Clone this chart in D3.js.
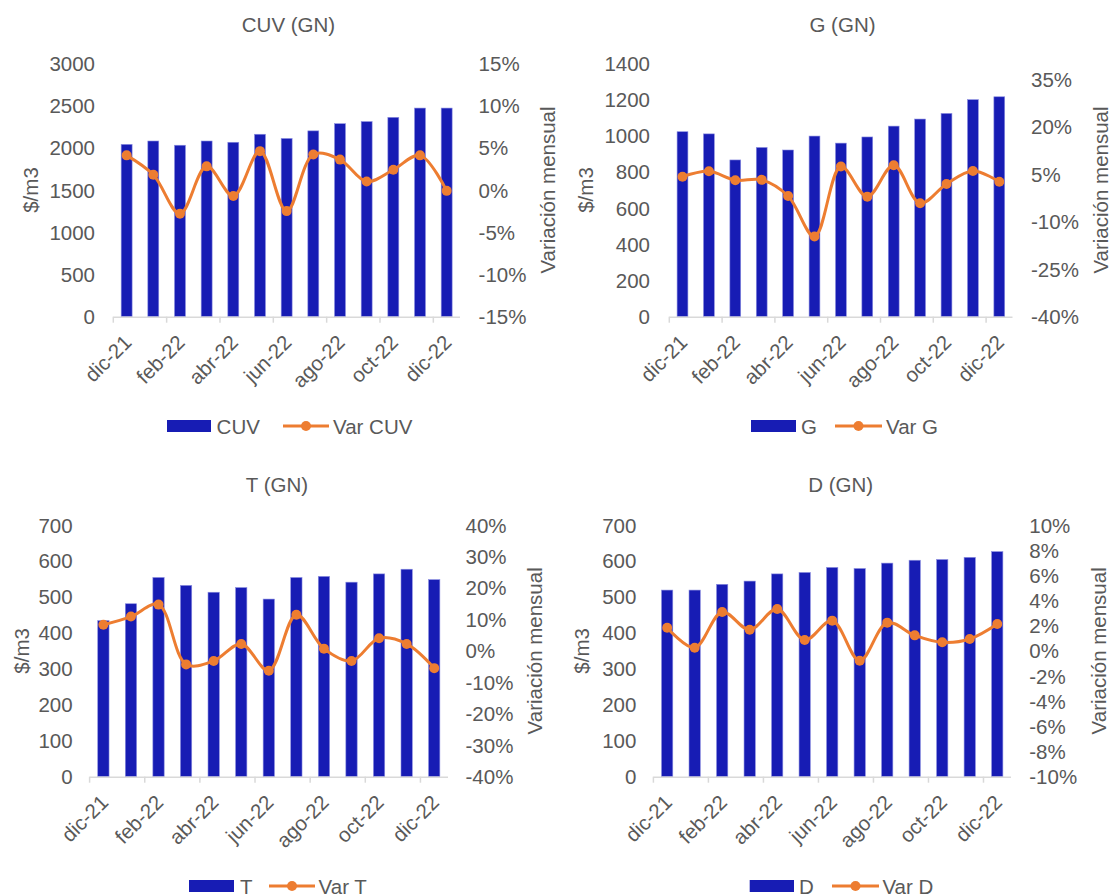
<!DOCTYPE html>
<html><head><meta charset="utf-8">
<script src="https://cdn.jsdelivr.net/npm/d3@7"></script>
<style>
body{margin:0;background:#fff}
svg{display:block}
text{font-family:"Liberation Sans",Arial,sans-serif;fill:#595959}
</style>
</head><body>
<svg id="chart" width="1110" height="896"></svg>
<script>
// ---- data ----
const months = ["dic-21","ene-22","feb-22","mar-22","abr-22","may-22","jun-22","jul-22","ago-22","sep-22","oct-22","nov-22","dic-22"];
const xTickLabels = ["dic-21","feb-22","abr-22","jun-22","ago-22","oct-22","dic-22"];

const cuv    = [2040,2080,2030,2080,2065,2160,2110,2200,2285,2310,2360,2470,2470];
const varCuv = [0.041,0.018,-0.028,0.028,-0.007,0.046,-0.025,0.042,0.036,0.010,0.024,0.041,-0.001];
const g      = [1022,1010,866,935,921,998,959,993,1053,1092,1123,1199,1215];
const varG   = [0.042,0.059,0.031,0.032,-0.019,-0.147,0.074,-0.021,0.078,-0.042,0.019,0.060,0.026];
const t      = [434,481,554,532,513,526,494,554,557,541,564,577,548];
const varT   = [0.083,0.109,0.147,-0.043,-0.032,0.022,-0.063,0.115,0.007,-0.032,0.040,0.022,-0.055];
const dd     = [519,519,535,544,564,568,582,579,594,602,604,610,626];
const varD   = [0.0184,0.0025,0.0309,0.0168,0.0332,0.0086,0.0240,-0.0078,0.0224,0.0123,0.0068,0.0094,0.0213];

const cuvTicks  = [0,500,1000,1500,2000,2500,3000];
const gTicks    = [0,200,400,600,800,1000,1200,1400];
const tTicks    = [0,100,200,300,400,500,600,700];
const dTicks    = [0,100,200,300,400,500,600,700];
const varCuvTicks = [-0.15,-0.10,-0.05,0,0.05,0.10,0.15];
const varGTicks   = [-0.40,-0.25,-0.10,0.05,0.20,0.35];
const varTTicks   = [-0.40,-0.30,-0.20,-0.10,0,0.10,0.20,0.30,0.40];
const varDTicks   = [-0.10,-0.08,-0.06,-0.04,-0.02,0,0.02,0.04,0.06,0.08,0.10];

const titles = ["CUV (GN)","G (GN)","T (GN)","D (GN)"];
const barNames = ["CUV","G","T","D"];
const lineNames = ["Var CUV","Var G","Var T","Var D"];

// ---- layout ----
const BAR = "#171cb4", LINE = "#ed7d31", AXIS = "#d9d9d9", FS = 20.5;
const panels = [
  {bars:cuv, line:varCuv, lt:cuvTicks, rt:varCuvTicks, ld:[0,3000], rd:[-0.15,0.15],
   x0:113.3, x1:460, yT:63.3, yB:316.7, tx:288.5, ty:24, llx:95, ytx:30, rlx:478.6, rtx:547, lgY:426,
   lg:[167,211,216.6,283,329,333]},
  {bars:g, line:varG, lt:gTicks, rt:varGTicks, ld:[0,1400], rd:[-0.40,0.40],
   x0:669.3, x1:1012.5, yT:63.3, yB:316.7, tx:842.5, ty:24, llx:650, ytx:585, rlx:1031, rtx:1100, lgY:426,
   lg:[751,796,801,835,882,886]},
  {bars:t, line:varT, lt:tTicks, rt:varTTicks, ld:[0,700], rd:[-0.40,0.40],
   x0:89.6, x1:448, yT:525, yB:776.7, tx:277, ty:484, llx:72.6, ytx:21, rlx:465.5, rtx:534.5, lgY:886,
   lg:[189,234,240,269,315,318.6]},
  {bars:dd, line:varD, lt:dTicks, rt:varDTicks, ld:[0,700], rd:[-0.10,0.10],
   x0:653.4, x1:1011, yT:525, yB:776.7, tx:840.7, ty:484, llx:636.4, ytx:581.5, rlx:1029.3, rtx:1098.4, lgY:886,
   lg:[749.7,794,799,832,879,882.4]}
];

const svg = d3.select("#chart");
const pct = v => d3.format(".0%")(v).replace("\u2212","-");

panels.forEach((p, k) => {
  const gP = svg.append("g");
  const x = d3.scaleBand().domain(months).range([p.x0, p.x1]).paddingInner(0.59).paddingOuter(0.295);
  const xc = d3.scaleBand().domain(months).range([p.x0, p.x1]);
  const yL = d3.scaleLinear().domain(p.ld).range([p.yB, p.yT]);
  const yR = d3.scaleLinear().domain(p.rd).range([p.yB, p.yT]);

  // title
  gP.append("text").attr("x", p.tx).attr("y", p.ty).attr("text-anchor","middle")
    .attr("dominant-baseline","central").style("font-size", FS+"px").text(titles[k]);

  // bars
  gP.selectAll("rect.bar").data(p.bars).join("rect").attr("class","bar")
    .attr("x",(v,i)=>x(months[i])).attr("width",x.bandwidth())
    .attr("y",v=>yL(v)).attr("height",v=>yL(0)-yL(v))
    .attr("fill",BAR).attr("stroke","#8a8de0").attr("stroke-width",0.6);

  // x axis
  gP.append("line").attr("x1",p.x0).attr("x2",p.x1).attr("y1",p.yB+0.5).attr("y2",p.yB+0.5)
    .attr("stroke",AXIS).attr("stroke-width",1.5);
  const tickMonths = months.filter((m,i)=>i%2===0);
  gP.selectAll("line.tk").data(tickMonths).join("line").attr("class","tk")
    .attr("x1",m=>xc(m)).attr("x2",m=>xc(m)).attr("y1",p.yB).attr("y2",p.yB+6)
    .attr("stroke",AXIS).attr("stroke-width",1.5);
  gP.selectAll("text.xl").data(xTickLabels).join("text").attr("class","xl")
    .attr("transform",m=>`translate(${xc(m)+xc.bandwidth()/2+1},${p.yB+22}) rotate(-45)`)
    .attr("text-anchor","end").attr("dy","0.35em").style("font-size",FS+"px").text(m=>m);

  // left ticks
  gP.selectAll("text.yl").data(p.lt).join("text").attr("class","yl")
    .attr("x",p.llx).attr("y",v=>yL(v)).attr("text-anchor","end").attr("dominant-baseline","central")
    .style("font-size",FS+"px").text(v=>v);
  // right ticks
  gP.selectAll("text.yr").data(p.rt).join("text").attr("class","yr")
    .attr("x",p.rlx).attr("y",v=>yR(v)).attr("text-anchor","start").attr("dominant-baseline","central")
    .style("font-size",FS+"px").text(v=>pct(v));
  // axis titles
  const ym = (p.yT+p.yB)/2;
  gP.append("text").attr("transform",`translate(${p.ytx},${ym}) rotate(-90)`).attr("text-anchor","middle")
    .attr("dominant-baseline","central").style("font-size",FS+"px").text("$/m3");
  gP.append("text").attr("transform",`translate(${p.rtx},${ym}) rotate(-90)`).attr("text-anchor","middle")
    .attr("dominant-baseline","central").style("font-size",FS+"px").text("Variación mensual");

  // line
  const lineGen = d3.line().x((v,i)=>xc(months[i])+xc.bandwidth()/2).y(v=>yR(v)).curve(d3.curveCatmullRom.alpha(0.5));
  gP.append("path").datum(p.line).attr("d",lineGen).attr("fill","none").attr("stroke",LINE).attr("stroke-width",3);
  gP.selectAll("circle.pt").data(p.line).join("circle").attr("class","pt")
    .attr("cx",(v,i)=>xc(months[i])+xc.bandwidth()/2).attr("cy",v=>yR(v)).attr("r",5).attr("fill",LINE);

  // legend
  const L = p.lg, ly = p.lgY;
  gP.append("rect").attr("x",L[0]).attr("y",ly-6).attr("width",L[1]-L[0]).attr("height",12).attr("fill",BAR);
  gP.append("text").attr("x",L[2]).attr("y",ly).attr("dominant-baseline","central").style("font-size",FS+"px").text(barNames[k]);
  gP.append("line").attr("x1",L[3]).attr("x2",L[4]).attr("y1",ly).attr("y2",ly).attr("stroke",LINE).attr("stroke-width",3);
  gP.append("circle").attr("cx",(L[3]+L[4])/2).attr("cy",ly).attr("r",5).attr("fill",LINE);
  gP.append("text").attr("x",L[5]).attr("y",ly).attr("dominant-baseline","central").style("font-size",FS+"px").text(lineNames[k]);
});
</script>
</body></html>
